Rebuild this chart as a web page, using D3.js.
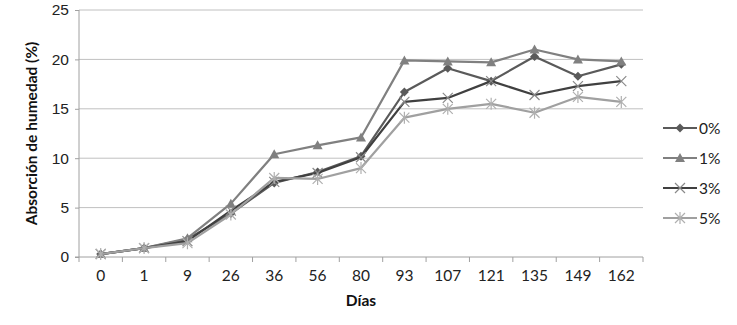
<!DOCTYPE html>
<html>
<head>
<meta charset="utf-8">
<script src="https://cdn.jsdelivr.net/npm/d3@7"></script>
<style>
  body { margin: 0; background: #fff; }
  svg { display: block; font-family: Lato, "Open Sans", sans-serif; }
  .grid line { stroke: #c0c0c0; stroke-width: 1; }
  .tick text { fill: #222; font-size: 15.5px; }
</style>
</head>
<body>
<svg id="chart" width="737" height="325"></svg>
<script>
const DAYS = ["0", "1", "9", "26", "36", "56", "80", "93", "107", "121", "135", "149", "162"];
const Y_TICKS = [0, 5, 10, 15, 20, 25];

const S0 = [0.3, 0.9, 1.8, 4.4, 7.5, 8.6, 10.2, 16.7, 19.1, 17.8, 20.3, 18.3, 19.5];
const S1 = [0.3, 0.9, 1.9, 5.4, 10.4, 11.3, 12.1, 19.9, 19.8, 19.7, 21.0, 20.0, 19.8];
const S3 = [0.3, 0.9, 1.6, 4.7, 7.6, 8.5, 10.1, 15.7, 16.1, 17.8, 16.4, 17.3, 17.8];
const S5 = [0.3, 0.9, 1.4, 4.3, 8.0, 7.9, 9.0, 14.1, 15.0, 15.5, 14.6, 16.2, 15.7];

const series = [
  { name: "0%", values: S0, line: "#5a5a5a", mark: "#5a5a5a", shape: "diamond" },
  { name: "1%", values: S1, line: "#808080", mark: "#808080", shape: "triangle" },
  { name: "3%", values: S3, line: "#404040", mark: "#8a8a8a", shape: "x" },
  { name: "5%", values: S5, line: "#a0a0a0", mark: "#b0b0b0", shape: "star" },
];

const margin = { left: 79, right: 94, top: 10, bottom: 68 };
const width = 737, height = 325;
const svg = d3.select("#chart");

const x = d3.scaleBand().domain(DAYS).range([margin.left, width - margin.right]);
const y = d3.scaleLinear().domain([0, 25]).range([height - margin.bottom, margin.top]);

// gridlines
svg.append("g").attr("class", "grid")
  .selectAll("line").data(Y_TICKS.slice(1)).join("line")
  .attr("x1", margin.left).attr("x2", width - margin.right)
  .attr("y1", d => y(d)).attr("y2", d => y(d));

// y axis
const yAxis = svg.append("g").attr("transform", `translate(${margin.left},0)`)
  .call(d3.axisLeft(y).tickValues(Y_TICKS).tickSize(4).tickPadding(6));
yAxis.selectAll("line, path").attr("stroke", "#a0a0a0");
yAxis.select(".domain").attr("d", `M-4,${y(0)}H0V${y(25)}`);

// x axis, ticks between categories
const xAxis = svg.append("g").attr("transform", `translate(0,${y(0)})`);
xAxis.append("line").attr("x1", margin.left).attr("x2", width - margin.right)
  .attr("stroke", "#a0a0a0");
const bounds = DAYS.map(d => x(d)).concat([x(DAYS[DAYS.length - 1]) + x.bandwidth()]);
xAxis.selectAll(".xt").data(bounds).join("line")
  .attr("x1", d => d).attr("x2", d => d).attr("y1", 0).attr("y2", 5)
  .attr("stroke", "#a0a0a0");
xAxis.selectAll(".xl").data(DAYS).join("text")
  .attr("x", d => x(d) + x.bandwidth() / 2).attr("y", 24)
  .attr("text-anchor", "middle").attr("font-size", 15.5).attr("fill", "#222")
  .text(d => d);

// axis titles
svg.append("text").attr("x", (margin.left + width - margin.right) / 2).attr("y", 306)
  .attr("text-anchor", "middle").attr("font-weight", "bold").attr("font-size", 15.5)
  .attr("fill", "#111").text("Días");
svg.append("text")
  .attr("transform", `translate(37,${(y(0) + y(25)) / 2}) rotate(-90)`)
  .attr("text-anchor", "middle").attr("font-weight", "bold").attr("font-size", 15.5)
  .attr("fill", "#111").text("Absorción de humedad (%)");

function drawMarker(g, shape, color) {
  if (shape === "diamond") {
    g.append("path").attr("d", "M0,-4.5L4.5,0L0,4.5L-4.5,0Z").attr("fill", color);
  } else if (shape === "triangle") {
    g.append("path").attr("d", "M0,-5L5,4L-5,4Z").attr("fill", color);
  } else if (shape === "x") {
    g.append("path").attr("d", "M-5,-5L5,5M-5,5L5,-5").attr("stroke", color).attr("stroke-width", 1.2);
  } else {
    g.append("path").attr("d", "M-5,-5L5,5M-5,5L5,-5M0,-6V6").attr("stroke", color).attr("stroke-width", 1.2);
  }
}

const line = d3.line()
  .x((d, i) => x(DAYS[i]) + x.bandwidth() / 2)
  .y(d => y(d));

series.forEach(s => {
  svg.append("path").attr("d", line(s.values)).attr("fill", "none")
    .attr("stroke", s.line).attr("stroke-width", 2.2).attr("stroke-linejoin", "round");
  s.values.forEach((v, i) => {
    const g = svg.append("g")
      .attr("transform", `translate(${x(DAYS[i]) + x.bandwidth() / 2},${y(v)})`);
    drawMarker(g, s.shape, s.mark);
  });
});

// legend
const legend = svg.append("g").attr("transform", "translate(663,128)");
series.forEach((s, i) => {
  const g = legend.append("g").attr("transform", `translate(0,${i * 30})`);
  g.append("line").attr("x1", 0).attr("x2", 34).attr("stroke", s.line).attr("stroke-width", 2.2);
  const m = g.append("g").attr("transform", "translate(17,0)");
  drawMarker(m, s.shape, s.mark);
  g.append("text").attr("x", 36).attr("y", 5.5).attr("font-size", 15.5).attr("fill", "#222").text(s.name);
});
</script>
</body>
</html>
